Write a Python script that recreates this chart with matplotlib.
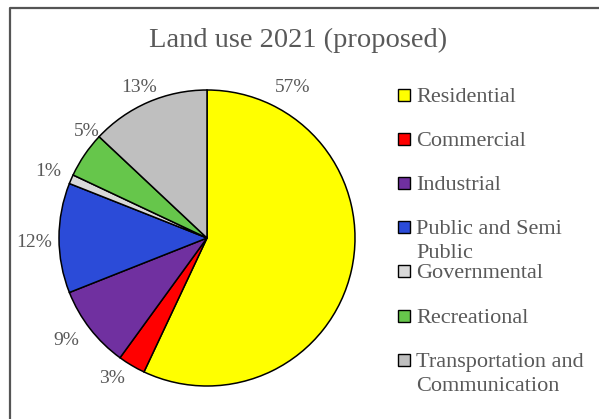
import matplotlib
matplotlib.use("Agg")
import matplotlib.pyplot as plt
from matplotlib.patches import Rectangle
from matplotlib.lines import Line2D

categories = ["Residential", "Commercial", "Industrial", "Public and Semi\nPublic",
              "Governmental", "Recreational", "Transportation and\nCommunication"]
shares = [57, 3, 9, 12, 1, 5, 13]
colors = ["#FFFF00", "#FF0000", "#7030A0", "#2B4BD8", "#D9D9D9", "#66C64B", "#BFBFBF"]
title = "Land use 2021 (proposed)"

# label placement (unit-circle coordinates), Excel "best fit" style
label_xy = [(0.58, 1.02), (-0.64, -0.95), (-0.95, -0.69), (-1.17, -0.03),
            (-1.07, 0.45), (-0.81, 0.72), (-0.46, 1.02)]

W, H = 599, 419
fig = plt.figure(figsize=(W / 100, H / 100), dpi=100)
plt.rcParams['font.family'] = ['Liberation Serif', 'DejaVu Serif']
text_gray = "#595959"

cx, cy, r = 207, 238, 148
ax = fig.add_axes([(cx - r) / W, (H - cy - r) / H, 2 * r / W, 2 * r / H])
wedges, _ = ax.pie(shares, colors=colors, startangle=90, counterclock=False,
                   radius=1.0, wedgeprops=dict(edgecolor="black", linewidth=1.1))
ax.set_xlim(-1, 1)
ax.set_ylim(-1, 1)
ax.set_aspect("equal")
ax.axis("off")

for v, (lx, ly) in zip(shares, label_xy):
    ax.text(lx, ly, f"{v}%", ha="center", va="center", fontsize=14,
            color=text_gray, clip_on=False)

fig.text(298 / W, 1 - 47 / H, title, ha="center", va="baseline",
         fontsize=20.5, color=text_gray)

# legend drawn by hand so the swatch sits on the first line of wrapped labels
legend_y = [95, 139, 183, 227, 271, 316, 360]
for name, col, y in zip(categories, colors, legend_y):
    fig.patches.append(Rectangle(((398) / W, 1 - (y + 6) / H), 12 / W, 12 / H,
                                 transform=fig.transFigure, facecolor=col,
                                 edgecolor="black", linewidth=1.0))
    fig.text(416 / W, 1 - (y - 7) / H, name, ha="left", va="top",
             fontsize=16, color=text_gray, linespacing=1.38)

# chart-area border (top and left edges)
fig.lines.append(Line2D([10 / W, 10 / W, 1], [0, 1 - 8 / H, 1 - 8 / H],
                        transform=fig.transFigure, color="#555555", linewidth=1.6))

fig.savefig("out.png", dpi=100)
